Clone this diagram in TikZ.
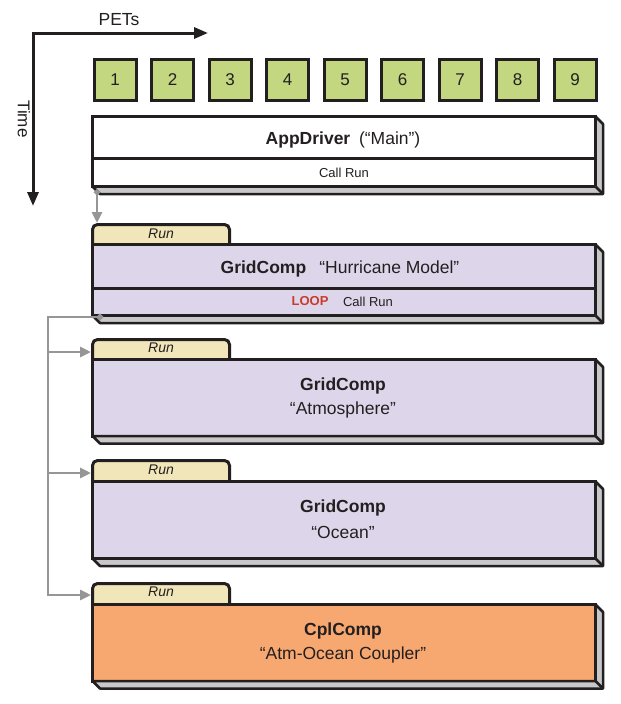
\documentclass[tikz,border=0pt]{standalone}
\usepackage{fontspec}
\setmainfont{Liberation Sans}
\usetikzlibrary{arrows.meta}
\definecolor{ink}{RGB}{35,31,32}
\definecolor{petgreen}{RGB}{195,214,128}
\definecolor{purplefill}{RGB}{221,214,234}
\definecolor{tabfill}{RGB}{240,230,185}
\definecolor{orangefill}{RGB}{247,168,112}
\definecolor{shadegray}{RGB}{200,200,202}
\definecolor{flowgray}{RGB}{150,150,150}
\definecolor{loopred}{RGB}{200,60,45}
\newcommand{\bigfont}{\fontsize{17.5}{20}\selectfont}
\newcommand{\smallfont}{\fontsize{13}{15}\selectfont}
\newcommand{\boxshade}[1]{%
  \draw[shadeface] (#1.north east) -- ++(7.5,7.5) -- ([shift={(7.5,7.5)}]#1.south east)
    -- ([shift={(7.5,7.5)}]#1.south west) -- (#1.south west) -- (#1.south east) -- cycle;
  \draw[shadeface] (#1.south east) -- ++(7.5,7.5);}
\begin{document}
\begin{tikzpicture}[x=1pt,y=-1pt,
  every node/.style={text=ink},
  pet/.style={draw=ink, line width=3pt, fill=petgreen, minimum width=42pt, minimum height=41pt, inner sep=0pt, font=\fontsize{17}{17}\selectfont},
  compbox/.style={draw=ink, line width=3pt, minimum width=503pt, inner sep=0pt, outer sep=0pt},
  tabbox/.style={draw=ink, line width=3pt, fill=tabfill, rounded corners=5pt, minimum width=137pt, minimum height=27.5pt, inner sep=0pt, outer sep=0pt},
  shadeface/.style={draw=ink, line width=2.5pt, fill=shadegray, line join=round},
  divider/.style={draw=ink, line width=3pt},
  axis/.style={draw=ink, line width=3pt, {Triangle[length=14pt,width=11pt]}-{Triangle[length=14pt,width=11pt]}},
  flow/.style={draw=flowgray, line width=2.7pt, -{Triangle[length=11pt,width=10pt]}},
  title/.style={font=\bigfont},
  small/.style={font=\smallfont},
  runlabel/.style={font=\fontsize{14}{16}\selectfont\itshape}
]
\useasboundingbox (0,0) rectangle (621,704);

% axes
\coordinate (corner) at (33,33);
\coordinate (petend) at (208,33);
\coordinate (timeend) at (33,206);
\draw[axis] (petend) -- (corner) -- (timeend);
\node[font=\bigfont] (pets) at (119,20) {PETs};
\node[font=\fontsize{17}{17}\selectfont, rotate=-90, inner sep=0pt] (time) at (24,119) {Time};

% PETs
\foreach \i in {1,...,9}
  \node[pet] (pet\i) at ({115+57.5*(\i-1)},80) {\i};

% AppDriver
\node[compbox, fill=white, minimum height=70pt] (app) at (344,151.5) {};
\boxshade{app}
\draw[divider] (app.west |- 0,158) -- (app.east |- 0,158);
\node[title] (apptitle) at (343,140) {\textbf{AppDriver}\hspace{0.5em}(“Main”)};
\node[small] (appcall) at (344,172.5) {Call Run};

% Hurricane
\node[tabbox] (hurtab) at (161,238.25) {};
\node[compbox, fill=purplefill, minimum height=71pt] (hur) at (344,280) {};
\boxshade{hur}
\draw[divider] (hur.west |- 0,288.5) -- (hur.east |- 0,288.5);
\node[runlabel] (hurrun) at (161,234) {Run};
\node[title] (hurtitle) at (340,269) {\textbf{GridComp}\hspace{0.75em}“Hurricane Model”};
\node[small, text=loopred, font=\smallfont\bfseries] (loop) at (310,301.5) {LOOP};
\node[small] (hurcall) at (368,301.5) {Call Run};

% Atmosphere
\node[tabbox] (atmtab) at (161,353.25) {};
\node[compbox, fill=purplefill, minimum height=76.5pt] (atm) at (344,397.75) {};
\boxshade{atm}
\node[runlabel] (atmrun) at (161,348) {Run};
\node[title, font=\bigfont\bfseries] (atmtitle) at (343,386) {GridComp};
\node[title] (atmname) at (343,410) {“Atmosphere”};

% Ocean
\node[tabbox] (ocntab) at (161,474.25) {};
\node[compbox, fill=purplefill, minimum height=77pt] (ocn) at (344,520) {};
\boxshade{ocn}
\node[runlabel] (ocnrun) at (161,470) {Run};
\node[title, font=\bigfont\bfseries] (ocntitle) at (343,508) {GridComp};
\node[title] (ocnname) at (343,532) {“Ocean”};

% Coupler
\node[tabbox] (cpltab) at (161,597.25) {};
\node[compbox, fill=orangefill, minimum height=76.5pt] (cpl) at (344,642.75) {};
\boxshade{cpl}
\node[runlabel] (cplrun) at (161,592) {Run};
\node[title, font=\bigfont\bfseries] (cpltitle) at (343,631) {CplComp};
\node[title] (cplname) at (343,655) {“Atm-Ocean Coupler”};

% flow arrows
\coordinate (appout) at (97,189.5);
\draw[flow, {Circle[length=5.5pt]}-{Triangle[length=11pt,width=10pt]}, shorten >=1.5pt] (appout) -- (appout |- hurtab.north);

\coordinate (loopstart) at (103,317);
\coordinate (loopcorner) at (48,317);
\coordinate (atmbranch) at (48,352);
\coordinate (ocnbranch) at (48,473);
\coordinate (cplbranch) at (48,595);
\draw[flow, {Circle[length=6pt]}-{Triangle[length=11pt,width=10pt]}, shorten >=1.5pt, line join=miter]
  (loopstart) -- (loopcorner) -- (cplbranch) -- (cplbranch -| cpltab.west);
\draw[flow, shorten >=1.5pt] (atmbranch) -- (atmbranch -| atmtab.west);
\draw[flow, shorten >=1.5pt] (ocnbranch) -- (ocnbranch -| ocntab.west);
\end{tikzpicture}
\end{document}
